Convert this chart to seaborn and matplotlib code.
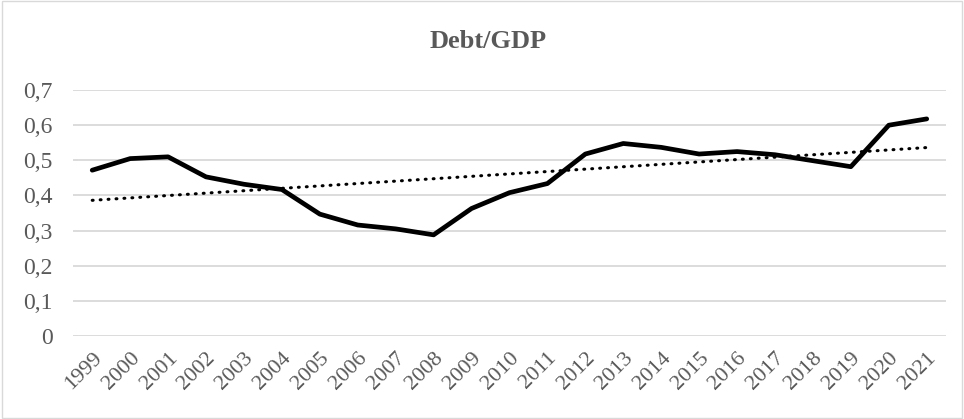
import numpy as np
import pandas as pd
import matplotlib
matplotlib.use("Agg")
import matplotlib.pyplot as plt
import seaborn as sns

years = [str(y) for y in range(1999, 2022)]
debt_gdp = [0.472, 0.505, 0.510, 0.453, 0.432, 0.417, 0.347, 0.316, 0.305, 0.288,
            0.363, 0.408, 0.434, 0.518, 0.548, 0.537, 0.518, 0.525, 0.516, 0.499,
            0.482, 0.600, 0.618]

df = pd.DataFrame({"year": years, "value": debt_gdp})
df["pos"] = np.arange(len(df))

# linear trend line, as in Excel
k, b = np.polyfit(df["pos"], df["value"], 1)
df["trend"] = k * df["pos"] + b

sns.set_style("white")
plt.rcParams["font.family"] = ["Liberation Serif", "DejaVu Serif"]

fig = plt.figure(figsize=(9.64, 4.19), dpi=100)
ax = fig.add_axes([0.076, 0.198, 0.905, 0.587])

sns.lineplot(data=df, x="pos", y="value", ax=ax, color="black", linewidth=3.4,
             solid_joinstyle="round", solid_capstyle="round")
sns.lineplot(data=df, x="pos", y="trend", ax=ax, color="black", linewidth=2.2,
             linestyle=(0, (0.3, 2.3)), dash_capstyle="round")

ax.set_xlim(-0.5, len(df) - 0.5)
ax.set_ylim(0, 0.7)
ax.set_yticks(np.arange(0, 0.71, 0.1))
ax.set_yticklabels(["0" if v == 0 else f"{v:.1f}".replace(".", ",") for v in np.arange(0, 0.71, 0.1)])
ax.set_xticks(df["pos"])
ax.set_xticklabels(df["year"], rotation=45, ha="right", rotation_mode="anchor")
ax.yaxis.grid(True, color="#d9d9d9", linewidth=1.3)
ax.set_axisbelow(True)
for s in ax.spines.values():
    s.set_visible(False)
ax.tick_params(axis="y", length=0, labelsize=17, labelcolor="#595959", pad=15)
ax.tick_params(axis="x", length=0, labelsize=16, labelcolor="#595959", pad=9)
ax.set_xlabel("")
ax.set_ylabel("")

fig.text(0.506, 0.9, "Debt/GDP", ha="center", va="center", fontsize=19,
         fontweight="bold", color="#595959")

fig.patches.append(plt.Rectangle((0.002, 0.003), 0.996, 0.994, transform=fig.transFigure,
                                 fill=False, edgecolor="#d9d9d9", linewidth=1))

fig.savefig("out.png", dpi=100)
